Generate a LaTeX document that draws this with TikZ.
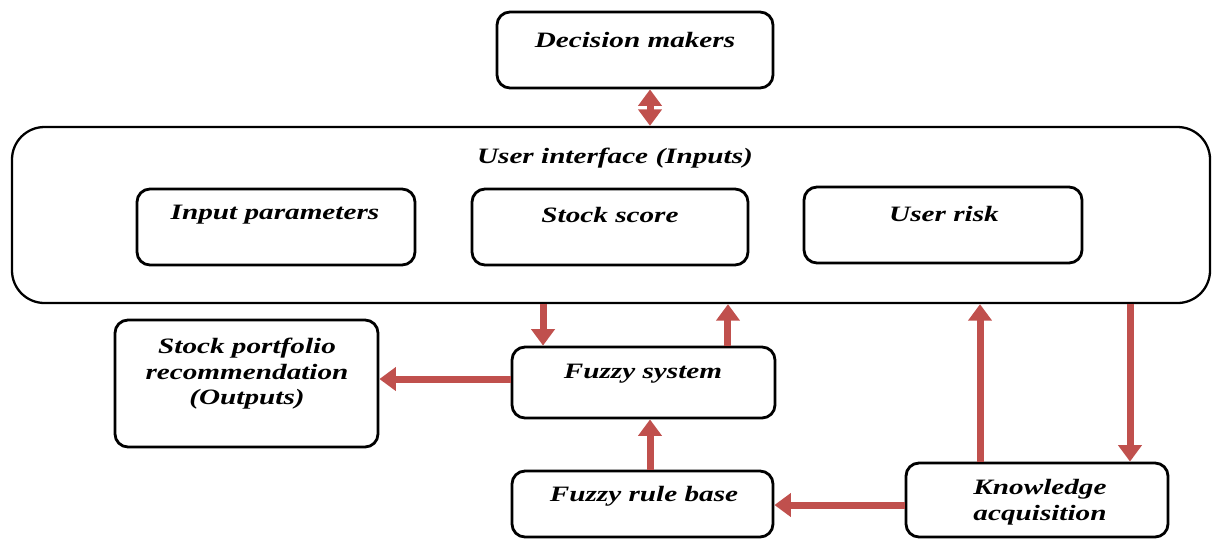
\documentclass[tikz,border=0pt]{standalone}
\usepackage{fontspec}
\setmainfont{Liberation Serif}[FakeStretch=1.33]
\usetikzlibrary{arrows.meta}
\definecolor{arrowred}{HTML}{C0504D}
\tikzset{
  sz/.style 2 args={minimum width=#1*0.02cm, minimum height=#2*0.02cm},
  box/.style={draw=black, line width=1.6pt, rounded corners=0.26cm, inner sep=0pt},
  outer/.style={draw=black, line width=1.3pt, rounded corners=0.65cm, inner sep=0pt},
  lbl/.style={font=\fontsize{12.5}{14.5}\selectfont\bfseries\itshape, align=center, inner sep=0pt},
  flow/.style={draw=arrowred, line width=0.14cm,
    -{Triangle[width=0.46cm, length=0.33cm]}},
  flow2/.style={draw=arrowred, line width=0.14cm,
    {Triangle[width=0.46cm, length=0.33cm]}-{Triangle[width=0.46cm, length=0.33cm]}},
}
\begin{document}
\begin{tikzpicture}[x=0.02cm, y=-0.02cm]
  \useasboundingbox (0,0) rectangle (1212,539);

  % frames
  \node[box, sz={276}{76}]   (dm) at (635,50) {};
  \node[outer, sz={1198}{176}] (ui) at (611,215) {};
  \node[box, sz={278}{76}]   (ip) at (276,227) {};
  \node[box, sz={276}{76}]   (ss) at (610,227) {};
  \node[box, sz={278}{76}]   (ur) at (943,225) {};
  \node[box, sz={263}{127}]  (sp) at (246.5,383.5) {};
  \node[box, sz={263}{71}]   (fs) at (643.5,382.5) {};
  \node[box, sz={261}{66}]   (rb) at (642.5,504) {};
  \node[box, sz={262}{74}]   (ka) at (1037,500) {};

  % captions
  \node[lbl] (dmt) at (635,40)  {Decision makers};
  \node[lbl] (uit) at (615,158) {User interface (Inputs)};
  \node[lbl] (ipt) at (275,215) {Input parameters};
  \node[lbl] (sst) at (610,215) {Stock score};
  \node[lbl] (urt) at (944,214) {User risk};
  \node[lbl] (spt) at (247,374) {Stock portfolio\\recommendation\\(Outputs)};
  \node[lbl] (fst) at (643,374) {Fuzzy system};
  \node[lbl] (rbt) at (644,496) {Fuzzy rule base};
  \node[lbl] (kat) at (1040,502) {Knowledge\\acquisition};

  % flows
  \draw[flow2] ([xshift=0.3cm]dm.south) -- ([xshift=0.3cm]dm.south |- ui.north);
  \draw[flow] ([xshift=-2.01cm]fs.north |- ui.south) -- ([xshift=-2.01cm]fs.north);
  \draw[flow] ([xshift=1.69cm]fs.north) -- ([xshift=1.69cm]fs.north |- ui.south);
  \draw[flow] ([yshift=0.07cm]fs.west) -- ([yshift=0.07cm]fs.west -| sp.east);
  \draw[flow] ([xshift=0.15cm]rb.north) -- ([xshift=0.15cm]rb.north |- fs.south);
  \draw[flow] ([yshift=-0.1cm]ka.west) -- ([yshift=-0.1cm]ka.west -| rb.east);
  \draw[flow] ([xshift=-1.14cm]ka.north) -- ([xshift=-1.14cm]ka.north |- ui.south);
  \draw[flow] ([xshift=1.86cm]ka.north |- ui.south) -- ([xshift=1.86cm]ka.north);
\end{tikzpicture}
\end{document}
